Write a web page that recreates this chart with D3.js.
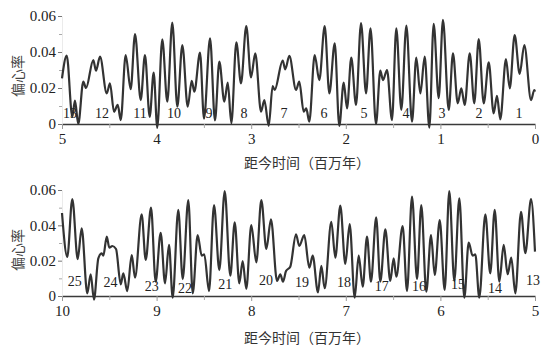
<!DOCTYPE html>
<html>
<head>
<meta charset="utf-8">
<script src="https://cdn.jsdelivr.net/npm/d3@7"></script>
<style>
  html, body { margin: 0; padding: 0; background: #fff; }
  svg { display: block; }
</style>
</head>
<body>
<script>
// ---------- DATA ----------
// Top panel: 5 -> 0 Ma
const topTime = [5.000,4.950,4.891,4.863,4.828,4.775,4.746,4.669,4.641,4.598,4.527,4.493,4.450,4.411,4.379,4.327,4.274,4.228,4.168,4.123,4.073,4.031,3.993,3.940,3.887,3.834,3.781,3.728,3.671,3.629,3.601,3.541,3.499,3.435,3.383,3.337,3.284,3.248,3.210,3.157,3.108,3.052,3.002,2.957,2.896,2.861,2.815,2.773,2.752,2.667,2.640,2.597,2.526,2.492,2.445,2.418,2.386,2.329,2.280,2.223,2.174,2.117,2.069,2.022,1.987,1.942,1.892,1.839,1.786,1.739,1.681,1.635,1.607,1.564,1.512,1.466,1.413,1.360,1.300,1.255,1.212,1.166,1.117,1.071,1.018,0.973,0.912,0.867,0.817,0.779,0.743,0.690,0.642,0.595,0.542,0.489,0.437,0.402,0.367,0.307,0.267,0.215,0.162,0.113,0.042,0.007,0.000];
const topEcc = [0.0254,0.0380,0.0040,0.0130,0.0000,0.0235,0.0200,0.0355,0.0296,0.0374,0.0170,0.0226,0.0068,0.0106,0.0022,0.0383,0.0193,0.0500,0.0133,0.0383,0.0040,0.0285,-0.0020,0.0470,0.0124,0.0563,0.0096,0.0439,0.0096,0.0240,0.0180,0.0396,0.0030,0.0476,0.0020,0.0346,0.0124,0.0230,0.0004,0.0454,0.0226,0.0544,0.0259,0.0393,0.0068,0.0133,-0.0010,0.0211,0.0189,0.0352,0.0304,0.0378,0.0189,0.0235,0.0068,0.0087,0.0013,0.0383,0.0244,0.0544,0.0170,0.0448,-0.0010,0.0230,0.0087,0.0369,0.0106,0.0560,0.0170,0.0531,0.0000,0.0296,0.0244,0.0300,0.0022,0.0531,0.0078,0.0546,0.0013,0.0369,0.0170,0.0374,-0.0020,0.0556,0.0143,0.0578,0.0078,0.0393,0.0115,0.0198,0.0106,0.0393,0.0115,0.0472,0.0115,0.0343,0.0059,0.0156,0.0026,0.0360,0.0198,0.0494,0.0278,0.0439,0.0133,0.0189,0.0180];

// Bottom panel: 10 -> 5 Ma
const bottomTime = [10.000,9.944,9.891,9.834,9.792,9.733,9.697,9.662,9.616,9.580,9.563,9.527,9.500,9.468,9.429,9.379,9.352,9.310,9.263,9.228,9.158,9.115,9.059,9.010,8.957,8.911,8.869,8.830,8.771,8.724,8.665,8.618,8.566,8.523,8.496,8.446,8.393,8.337,8.280,8.221,8.174,8.126,8.090,8.052,7.999,7.946,7.893,7.840,7.791,7.727,7.692,7.664,7.632,7.587,7.526,7.492,7.439,7.386,7.350,7.294,7.259,7.223,7.153,7.111,7.058,7.005,6.959,6.906,6.864,6.821,6.776,6.734,6.679,6.635,6.582,6.530,6.494,6.466,6.399,6.353,6.300,6.247,6.202,6.149,6.099,6.060,6.007,5.955,5.906,5.853,5.800,5.747,5.701,5.659,5.631,5.589,5.525,5.473,5.426,5.377,5.331,5.289,5.251,5.208,5.148,5.102,5.042,5.000];
const bottomEcc = [0.0470,0.0222,0.0549,0.0209,0.0383,0.0015,0.0123,-0.0020,0.0213,0.0241,0.0228,0.0336,0.0273,0.0283,0.0266,0.0066,0.0128,0.0028,0.0232,0.0104,0.0462,0.0204,0.0500,0.0081,0.0358,0.0072,0.0289,-0.0010,0.0487,0.0096,0.0543,0.0015,0.0345,0.0228,0.0236,0.0028,0.0515,0.0147,0.0594,0.0115,0.0417,0.0072,0.0198,0.0040,0.0402,0.0190,0.0543,0.0266,0.0434,0.0085,0.0123,0.0081,0.0141,0.0166,0.0349,0.0283,0.0345,0.0160,0.0228,0.0020,0.0170,0.0044,0.0420,0.0217,0.0511,0.0181,0.0407,-0.0010,0.0228,0.0053,0.0336,0.0081,0.0445,0.0081,0.0377,0.0085,0.0213,0.0109,0.0396,0.0028,0.0562,0.0096,0.0515,0.0024,0.0345,0.0119,0.0430,0.0034,0.0594,0.0085,0.0553,-0.0010,0.0302,0.0228,0.0236,-0.0010,0.0462,0.0128,0.0487,0.0081,0.0289,0.0123,0.0217,0.0015,0.0477,0.0242,0.0549,0.0251];

// 405-kyr cycle numbers and where they are written (time, eccentricity of text baseline)
const topCycleNums  = [13,12,11,10,9,8,7,6,5,4,3,2,1];
const topCycleTime  = [4.915,4.577,4.175,3.816,3.446,3.076,2.653,2.230,1.808,1.364,0.983,0.592,0.169];
const topCycleEcc   = [0.0032,0.0032,0.0032,0.0032,0.0032,0.0032,0.0032,0.0032,0.0032,0.0032,0.0032,0.0032,0.0032];
const botCycleNums  = [25,24,23,22,21,20,19,18,17,16,15,14,13];
const botCycleTime  = [9.866,9.487,9.052,8.700,8.274,7.844,7.463,7.019,6.620,6.226,5.814,5.423,5.021];
const botCycleEcc   = [0.0058,0.0053,0.0028,0.0015,0.0040,0.0062,0.0053,0.0053,0.0028,0.0026,0.0040,0.0015,0.0062];

const yTicks = [0, 0.02, 0.04, 0.06];
const yMinorTicks = [0.01, 0.03, 0.05];
const yLabel = "偏心率";
const xLabel = "距今时间（百万年）";

// ---------- DRAW ----------
const W = 555, H = 354;
const svg = d3.select("body").append("svg").attr("width", W).attr("height", H);

const panels = [
  { time: topTime, ecc: topEcc, domain: [5, 0], yRange: [124, 16],
    nums: topCycleNums, nTime: topCycleTime, nEcc: topCycleEcc,
    xTickVals: [5,4,3,2,1,0], xMinor: [4.5,3.5,2.5,1.5,0.5], labelY: 168, yLabelY: 76 },
  { time: bottomTime, ecc: bottomEcc, domain: [10, 5], yRange: [296, 190],
    nums: botCycleNums, nTime: botCycleTime, nEcc: botCycleEcc,
    xTickVals: [10,9,8,7,6,5], xMinor: [9.5,8.5,7.5,6.5,5.5], labelY: 343, yLabelY: 250 }
];

const serif = "'Liberation Serif','Times New Roman',serif";
const cjk = "'Noto Sans CJK SC','Noto Sans',sans-serif";

panels.forEach(p => {
  const x = d3.scaleLinear().domain(p.domain).range([62, 535]);
  const y = d3.scaleLinear().domain([0, 0.06]).range(p.yRange);
  const g = svg.append("g");

  // x axis (major + minor ticks)
  const xAxis = d3.axisBottom(x).tickValues(p.xTickVals).tickFormat(d3.format("d"))
    .tickSizeInner(5).tickSizeOuter(0).tickPadding(4);
  const xa = g.append("g").attr("transform", `translate(0,${y(0)})`).call(xAxis);
  xa.select(".domain").attr("stroke", "#3a3a3a").attr("stroke-width", 1.6);
  xa.selectAll(".tick line").attr("stroke", "#999").attr("stroke-width", 1);
  xa.selectAll("text").attr("font-family", serif).attr("font-size", 15).attr("fill", "#222");
  const xm = g.append("g").attr("transform", `translate(0,${y(0)})`)
    .call(d3.axisBottom(x).tickValues(p.xMinor).tickSize(4).tickFormat(""));
  xm.select(".domain").remove();
  xm.selectAll(".tick line").attr("stroke", "#aaa");

  // y axis
  const ya = g.append("g").attr("transform", "translate(62,0)")
    .call(d3.axisLeft(y).tickValues(yTicks).tickFormat(d => d === 0 ? "0" : d3.format(".2f")(d))
      .tickSizeInner(4).tickSizeOuter(0).tickPadding(2));
  ya.select(".domain").attr("stroke", "#ddd").attr("stroke-width", 0.6);
  ya.selectAll(".tick line").attr("stroke", "#777");
  ya.selectAll("text").attr("font-family", serif).attr("font-size", 15).attr("fill", "#222");
  const ym = g.append("g").attr("transform", "translate(62,0)")
    .call(d3.axisLeft(y).tickValues(yMinorTicks).tickSize(3).tickFormat(""));
  ym.select(".domain").remove();
  ym.selectAll(".tick line").attr("stroke", "#aaa");

  // curve
  const pts = p.time.map((t, i) => [t, p.ecc[i]]);
  const line = d3.line().x(d => x(d[0])).y(d => y(d[1])).curve(d3.curveMonotoneX);
  g.append("path").datum(pts).attr("d", line)
    .attr("fill", "none").attr("stroke", "#333").attr("stroke-width", 2.2)
    .attr("stroke-linejoin", "round");

  // cycle numbers
  g.selectAll("text.cyc").data(p.nums).enter().append("text").attr("class", "cyc")
    .attr("x", (d, i) => x(p.nTime[i])).attr("y", (d, i) => y(p.nEcc[i]))
    .attr("text-anchor", "middle").attr("font-family", serif).attr("font-size", 14)
    .attr("fill", "#222").text(d => d);

  // labels
  g.append("text").attr("x", 307).attr("y", p.labelY).attr("text-anchor", "middle")
    .attr("font-family", cjk).attr("font-size", 14).attr("fill", "#333").text(xLabel);
  g.append("text").attr("transform", `translate(23,${p.yLabelY}) rotate(-90)`)
    .attr("text-anchor", "middle").attr("font-family", cjk).attr("font-size", 14)
    .attr("fill", "#444").text(yLabel);
});
</script>
</body>
</html>
